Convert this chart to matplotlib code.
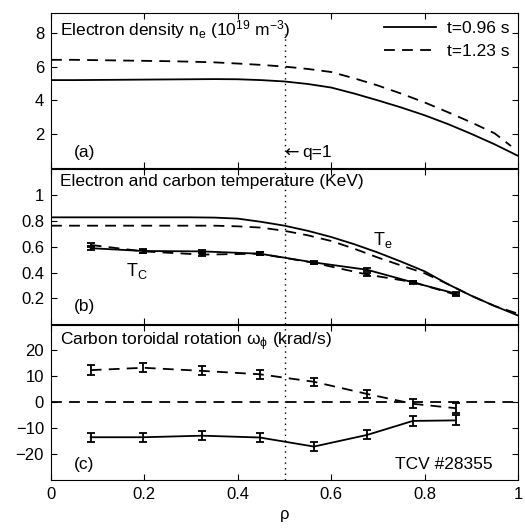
import numpy as np
import matplotlib
matplotlib.use('Agg')
import matplotlib.pyplot as plt

plt.rcParams['font.family'] = ['Liberation Sans', 'DejaVu Sans']
plt.rcParams['font.size'] = 12
plt.rcParams['mathtext.fontset'] = 'custom'
plt.rcParams['mathtext.rm'] = 'Liberation Sans'
plt.rcParams['mathtext.it'] = 'Liberation Sans'

# profiles (a) and (b)
rho = [0.0, 0.05, 0.1, 0.15, 0.2, 0.25, 0.3, 0.35, 0.4, 0.45, 0.5,
       0.55, 0.6, 0.65, 0.7, 0.75, 0.8, 0.85, 0.9, 0.95, 1.0]
ne_096 = [5.20, 5.20, 5.21, 5.22, 5.23, 5.24, 5.25, 5.26, 5.25, 5.20, 5.12,
          4.97, 4.76, 4.40, 4.00, 3.58, 3.12, 2.60, 2.02, 1.40, 0.72]
rho2 = [0.0, 0.05, 0.1, 0.15, 0.2, 0.25, 0.3, 0.35, 0.4, 0.45, 0.5,
        0.55, 0.6, 0.65, 0.7, 0.75, 0.8, 0.85, 0.9, 0.95, 0.985]
ne_123 = [6.40, 6.40, 6.38, 6.36, 6.34, 6.32, 6.29, 6.25, 6.18, 6.10, 6.00,
          5.86, 5.68, 5.30, 4.88, 4.40, 3.88, 3.30, 2.70, 2.05, 1.30]
te_096 = [0.83, 0.83, 0.83, 0.83, 0.83, 0.83, 0.83, 0.828, 0.82, 0.795, 0.765,
          0.725, 0.677, 0.62, 0.556, 0.485, 0.41, 0.31, 0.22, 0.14, 0.066]
te_123 = [0.765, 0.765, 0.765, 0.765, 0.765, 0.765, 0.765, 0.765, 0.76, 0.75, 0.725,
          0.69, 0.646, 0.585, 0.517, 0.455, 0.395, 0.31, 0.22, 0.14, 0.08]

# CXRS points
rho_c = [0.085, 0.198, 0.324, 0.447, 0.563, 0.677, 0.775, 0.867]
tc_096 = [0.59, 0.568, 0.565, 0.547, 0.479, 0.422, 0.324, 0.236]
tc_123 = [0.615, 0.565, 0.54, 0.547, 0.476, 0.385, 0.326, 0.228]
tc_err = [0.015, 0.012, 0.012, 0.01, 0.01, 0.013, 0.01, 0.012]
om_096 = [-13.5, -13.5, -12.9, -13.6, -17.1, -12.6, -7.2, -7.0]
om_123 = [12.4, 13.3, 12.1, 10.8, 7.9, 3.2, -0.6, -2.3]
om_err = [1.8, 1.8, 1.7, 1.7, 1.6, 1.7, 1.8, 1.9]

fig = plt.figure(figsize=(5.25, 5.29), dpi=100)
L, W = 51 / 525, 467 / 525
H = 155.5 / 529
axa = fig.add_axes([L, 1 - 168 / 529, W, H])
axb = fig.add_axes([L, 1 - 324 / 529, W, H])
axc = fig.add_axes([L, 1 - 480 / 529, W, H])

dash = (6, 4)
dot = (0, (1, 3))
lw = 1.3
fs = 12.5
for ax in (axa, axb, axc):
    ax.set_xlim(0, 1)
    ax.tick_params(direction='in', top=True, right=True, length=4, width=0.8,
                   labelsize=12, pad=5)
    ax.set_xticks([0, 0.2, 0.4, 0.6, 0.8, 1])
    for s in ax.spines.values():
        s.set_linewidth(0.8)

# (a)
axa.plot(rho, ne_096, 'k-', lw=lw, label='t=0.96 s')
axa.plot(rho2, ne_123, 'k--', lw=lw, dashes=dash, label='t=1.23 s')
axa.set_ylim(0, 9.2)
axa.set_yticks([2, 4, 6, 8])
axa.set_xticklabels([])
axa.axvline(0.5, ymax=7.9 / 9.2, color='k', ls=dot, lw=1)
axa.text(0.02, 0.965, r'Electron density n$_\mathregular{e}$ (10$^\mathregular{19}$ m$^\mathregular{-3}$)',
         transform=axa.transAxes, va='top', ha='left', fontsize=fs)
axa.text(0.05, 0.1, '(a)', transform=axa.transAxes, va='center', fontsize=fs)
axa.text(0.5, 0.1, '\u2190', transform=axa.transAxes, va='center', fontsize=fs,
         family=['DejaVu Sans'])
axa.text(0.537, 0.1, 'q=1', transform=axa.transAxes, va='center', fontsize=fs)
axa.legend(loc='upper right', frameon=False, handlelength=3, fontsize=fs,
           borderaxespad=0.1, labelspacing=0.45, handletextpad=0.6)

# (b)
axb.plot(rho, te_096, 'k-', lw=lw)
axb.plot(rho, te_123, 'k--', lw=lw, dashes=dash)
axb.errorbar(rho_c, tc_096, yerr=tc_err, fmt='k-', lw=lw, capsize=3, capthick=1.3)
axb.errorbar(rho_c, tc_123, yerr=tc_err, fmt='k--', lw=lw, dashes=dash, capsize=3, capthick=1.3)
axb.set_ylim(0, 1.21)
axb.set_yticks([0.2, 0.4, 0.6, 0.8, 1])
axb.set_yticklabels(['0.2', '0.4', '0.6', '0.8', '1'])
axb.set_xticklabels([])
axb.axvline(0.5, color='k', ls=dot, lw=1)
axb.text(0.02, 0.965, 'Electron and carbon temperature (KeV)',
         transform=axb.transAxes, va='top', ha='left', fontsize=fs)
axb.text(0.05, 0.11, '(b)', transform=axb.transAxes, va='center', fontsize=fs)
axb.text(0.69, 0.65, r'T$_\mathregular{e}$', va='center', fontsize=13)
axb.text(0.16, 0.41, r'T$_\mathregular{C}$', va='center', fontsize=13)

# (c)
axc.axhline(0, color='k', ls='--', lw=lw, dashes=dash)
axc.errorbar(rho_c, om_096, yerr=om_err, fmt='k-', lw=lw, capsize=3, capthick=1.3)
axc.errorbar(rho_c, om_123, yerr=om_err, fmt='k--', lw=lw, dashes=dash, capsize=3, capthick=1.3)
axc.set_ylim(-30, 30)
axc.set_yticks([-20, -10, 0, 10, 20])
axc.set_xticklabels(['0', '0.2', '0.4', '0.6', '0.8', '1'])
axc.axvline(0.5, color='k', ls=dot, lw=1)
axc.text(0.02, 0.965, r'Carbon toroidal rotation $\omega_\phi$ (krad/s)',
         transform=axc.transAxes, va='top', ha='left', fontsize=fs)
axc.text(0.05, 0.1, '(c)', transform=axc.transAxes, va='center', fontsize=fs)
axc.text(0.945, 0.1, 'TCV #28355', transform=axc.transAxes, va='center', ha='right',
         fontsize=fs)
axc.set_xlabel('\u03c1', fontsize=12, labelpad=4)

fig.savefig('out.png', dpi=100)
